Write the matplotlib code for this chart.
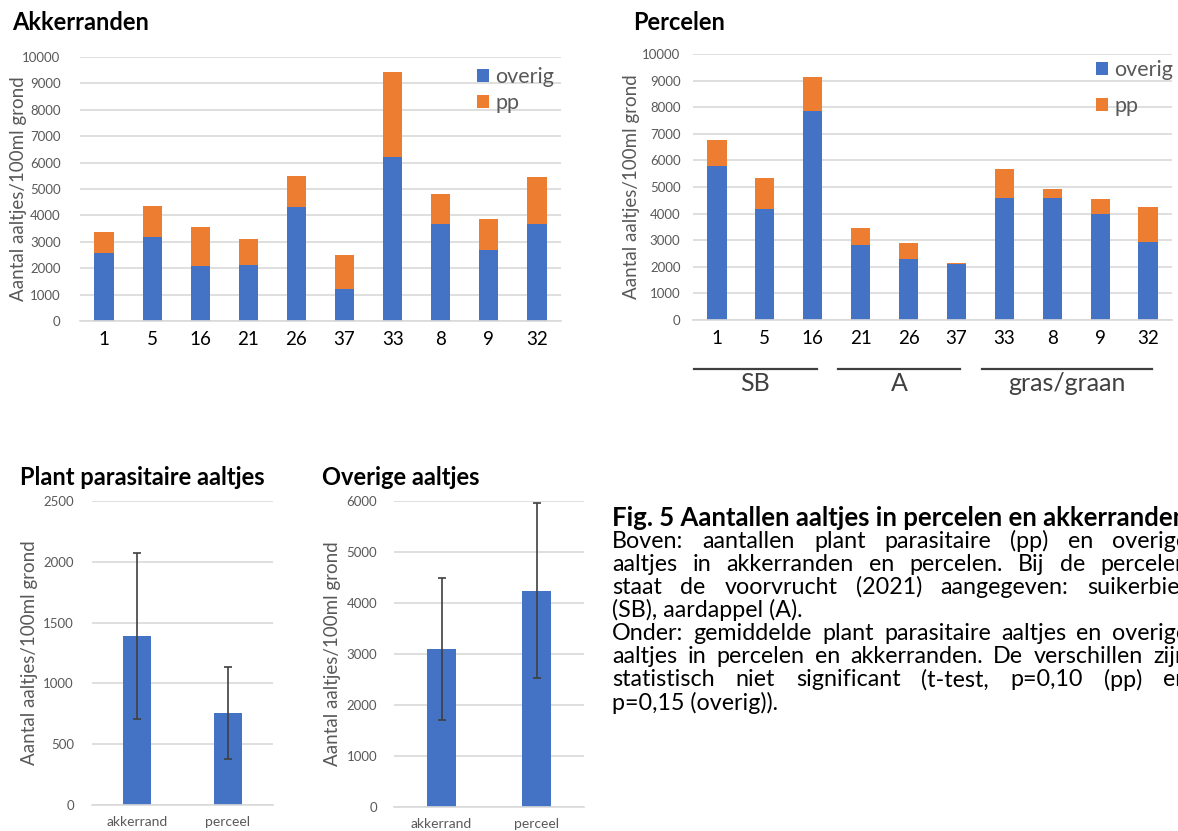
import numpy as np
import matplotlib
matplotlib.use("Agg")
import matplotlib.pyplot as plt

plt.rcParams['font.family'] = ['Lato', 'DejaVu Sans']

# ------------------------------------------------------------
# data
# ------------------------------------------------------------
akker_labels = ["1", "5", "16", "21", "26", "37", "33", "8", "9", "32"]
akker_overig = [2580, 3180, 2070, 2110, 4320, 1200, 6210, 3660, 2700, 3660]
akker_pp = [780, 1190, 1490, 1000, 1160, 1310, 3230, 1160, 1160, 1780]

perc_labels = ["1", "5", "16", "21", "26", "37", "33", "8", "9", "32"]
perc_overig = [5800, 4190, 7840, 2810, 2290, 2090, 4600, 4600, 3990, 2950]
perc_pp = [950, 1150, 1290, 650, 610, 60, 1090, 330, 570, 1310]

# voorvrucht groups (first / last bar index)
groups = ["SB", "A", "gras/graan"]
group_first = [0, 3, 6]
group_last = [2, 5, 9]

gem_labels = ["akkerrand", "perceel"]
pp_mean = [1390, 755]
pp_err = [680, 380]
ov_mean = [3100, 4245]
ov_err = [1400, 1720]

caption_lines = [
    "Fig. 5 Aantallen aaltjes in percelen en akkerranden",
    "Boven: aantallen plant parasitaire (pp) en overige",
    "aaltjes in akkerranden en percelen. Bij de percelen",
    "staat de voorvrucht (2021) aangegeven: suikerbiet",
    "(SB), aardappel (A).",
    "Onder: gemiddelde plant parasitaire aaltjes en overige",
    "aaltjes in percelen en akkerranden. De verschillen zijn",
    "statistisch niet significant (t-test, p=0,10 (pp) en",
    "p=0,15 (overig)).",
]
caption_justify = [False, True, True, True, False, True, True, True, False]

# ------------------------------------------------------------
# style
# ------------------------------------------------------------
BLUE = "#4472C4"
ORANGE = "#ED7D31"
GRID = "#D9D9D9"
GREY = "#595959"
YLAB = "Aantal aaltjes/100ml grond"
TITLE_SIZE = 17

W, H = 1178, 831
fig = plt.figure(figsize=(W / 100, H / 100), dpi=100)


def box(x0, y0, x1, y1):
    # pixel box (top-left origin) -> figure fraction
    return [x0 / W, 1 - y1 / H, (x1 - x0) / W, (y1 - y0) / H]


def style(ax, ymax, step, ypad, xpad, ysize, xsize, xcolor):
    ax.set_ylim(0, ymax)
    ax.set_yticks(np.arange(0, ymax + 1, step))
    ax.grid(axis="y", color=GRID, lw=1.2)
    ax.set_axisbelow(True)
    for s in ["top", "right", "left"]:
        ax.spines[s].set_visible(False)
    ax.spines["bottom"].set_color(GRID)
    ax.spines["bottom"].set_linewidth(1.2)
    ax.tick_params(axis="y", length=0, pad=ypad, labelsize=ysize, labelcolor=GREY)
    ax.tick_params(axis="x", length=0, pad=xpad, labelsize=xsize, labelcolor=xcolor)


def ylabel_at(ax, text, xpix, size=13.5):
    # xpix = right edge of the rotated label
    ax.set_ylabel(text, fontsize=size, color=GREY)
    bb = ax.get_position()
    ax.yaxis.set_label_coords((xpix / W - bb.x0) / bb.width, 0.5)


# ============================================================
# 1. AKKERRANDEN
# ============================================================
ax1 = fig.add_axes(box(80, 57, 561, 321))
x = np.arange(len(akker_labels))
ax1.bar(x, akker_overig, width=0.4, color=BLUE, label="overig")
ax1.bar(x, akker_pp, width=0.4, bottom=akker_overig, color=ORANGE, label="pp")
ax1.set_xlim(-0.5, len(x) - 0.5)
ax1.set_xticks(x, akker_labels)
style(ax1, 10000, 1000, 14, 7, 9.5, 13.5, "black")
ylabel_at(ax1, YLAB, 27)
ax1.legend(loc="center left", bbox_to_anchor=(477 / W, 1 - 90 / H),
           bbox_transform=fig.transFigure, frameon=False, fontsize=15.5,
           handlelength=0.55, handleheight=0.55, handletextpad=0.3,
           labelspacing=0.3, borderpad=0, borderaxespad=0, labelcolor=GREY)
fig.text(12 / W, 1 - 22 / H, "Akkerranden", fontsize=TITLE_SIZE,
         fontweight="bold", va="center", ha="left")

# ============================================================
# 2. PERCELEN
# ============================================================
ax2 = fig.add_axes(box(693, 54, 1172, 320))
x = np.arange(len(perc_labels))
ax2.bar(x, perc_overig, width=0.4, color=BLUE, label="overig")
ax2.bar(x, perc_pp, width=0.4, bottom=perc_overig, color=ORANGE, label="pp")
ax2.set_xlim(-0.5, len(x) - 0.5)
ax2.set_xticks(x, perc_labels)
style(ax2, 10000, 1000, 9, 7, 9.5, 13.5, "black")
ylabel_at(ax2, YLAB, 640)
ax2.legend(loc="center left", bbox_to_anchor=(1096 / W, 1 - 88 / H),
           bbox_transform=fig.transFigure, frameon=False, fontsize=15.5,
           handlelength=0.55, handleheight=0.55, handletextpad=0.3,
           labelspacing=0.75, borderpad=0, borderaxespad=0, labelcolor=GREY)
fig.text(633 / W, 1 - 22 / H, "Percelen", fontsize=TITLE_SIZE,
         fontweight="bold", va="center", ha="left")

# voorvrucht group lines below the axis
trans = ax2.get_xaxis_transform()
for name, i0, i1 in zip(groups, group_first, group_last):
    x0, x1 = i0 - 0.47, i1 + 0.08
    ax2.plot([x0, x1], [-0.184, -0.184], color="#404040", lw=1.6,
             transform=trans, clip_on=False)
    ax2.text((x0 + x1) / 2, -0.237, name, transform=trans, ha="center",
             va="center", fontsize=18, color="#404040")

# ============================================================
# 3. GEMIDDELDEN (pp en overig)
# ============================================================
ax3 = fig.add_axes(box(92, 501, 273, 805))
x = np.arange(len(gem_labels))
ax3.bar(x, pp_mean, width=0.31, color=BLUE)
ax3.errorbar(x, pp_mean, yerr=pp_err, fmt="none", ecolor="#404040",
             elinewidth=1.2, capsize=3, capthick=1.2)
ax3.set_xlim(-0.5, 1.5)
ax3.set_xticks(x, gem_labels)
style(ax3, 2500, 500, 13, 8, 9.5, 10, GREY)
ylabel_at(ax3, YLAB, 38)
fig.text(20 / W, 1 - 477 / H, "Plant parasitaire aaltjes", fontsize=TITLE_SIZE,
         fontweight="bold", va="center", ha="left")

ax4 = fig.add_axes(box(394, 501, 584, 807))
ax4.bar(x, ov_mean, width=0.3, color=BLUE)
ax4.errorbar(x, ov_mean, yerr=ov_err, fmt="none", ecolor="#404040",
             elinewidth=1.2, capsize=3, capthick=1.2)
ax4.set_xlim(-0.5, 1.5)
ax4.set_xticks(x, gem_labels)
style(ax4, 6000, 1000, 12, 8, 9.5, 10, GREY)
ylabel_at(ax4, YLAB, 341)
fig.text(322 / W, 1 - 477 / H, "Overige aaltjes", fontsize=TITLE_SIZE,
         fontweight="bold", va="center", ha="left")

# ============================================================
# 4. BIJSCHRIFT (uitgevuld)
# ============================================================
renderer = fig.canvas.get_renderer()
x_left, x_right = 612, 1188


def width_px(s, size, weight="normal"):
    t = fig.text(0, 0, s, fontsize=size, fontweight=weight)
    w = t.get_window_extent(renderer).width
    t.remove()
    return w


cap_size = 10 * 550 / width_px(caption_lines[5], 10)
bold_size = 10 * 578 / width_px(caption_lines[0], 10, "bold")

for k, (line, just) in enumerate(zip(caption_lines, caption_justify)):
    ypix = 518 + 23.1 * k
    weight = "bold" if k == 0 else "normal"
    size = bold_size if k == 0 else cap_size
    if not just:
        fig.text(x_left / W, 1 - ypix / H, line, fontsize=size,
                 fontweight=weight, va="center", ha="left", color="black")
        continue
    words = line.split(" ")
    widths = [width_px(w, size, weight) for w in words]
    gap = (x_right - x_left - sum(widths)) / (len(words) - 1)
    xpos = x_left
    for w, wd in zip(words, widths):
        fig.text(xpos / W, 1 - ypix / H, w, fontsize=size, fontweight=weight,
                 va="center", ha="left", color="black")
        xpos += wd + gap

fig.savefig("out.png", dpi=100)
